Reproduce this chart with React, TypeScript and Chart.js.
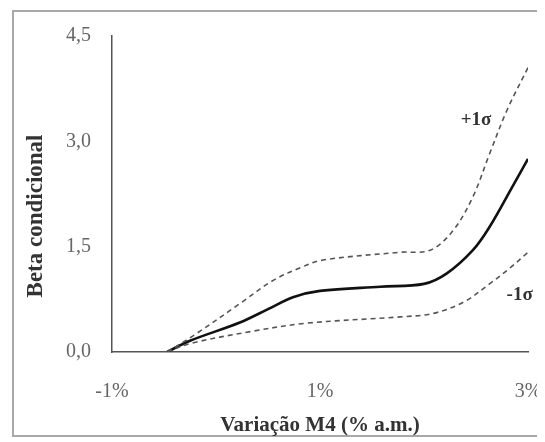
import React, { useEffect, useRef } from "react";
import { Chart, registerables } from "chart.js";

Chart.register(...registerables);

const betaX = [-0.47, -0.25, 0.23, 0.5, 0.74, 1.0, 1.58, 2.0, 2.22, 2.47, 2.63, 2.86, 3.0];
const betaY = [0, 0.16, 0.42, 0.61, 0.78, 0.87, 0.93, 0.97, 1.12, 1.45, 1.78, 2.38, 2.75];
const upperX = [-0.47, -0.2, 0.23, 0.55, 0.81, 1.03, 1.77, 2.06, 2.28, 2.47, 2.63, 2.8, 3.0];
const upperY = [0, 0.25, 0.69, 1.02, 1.2, 1.31, 1.42, 1.45, 1.73, 2.21, 2.82, 3.45, 4.05];
const lowerX = [-0.47, -0.25, 0.33, 0.87, 1.77, 2.09, 2.38, 2.63, 2.83, 3.0];
const lowerY = [0, 0.12, 0.29, 0.41, 0.5, 0.55, 0.71, 0.97, 1.2, 1.42];

const labelTexts = ["+1σ", "-1σ"];
const labelX = [2.5, 2.92];
const labelY = [3.3, 0.81];

const xTicks = [-1, 1, 3];
const yTicks = [0, 1.5, 3, 4.5];

const yTitle = "Beta condicional";
const xTitle = "Variação M4 (% a.m.)";

const toPts = (xs: number[], ys: number[]) => xs.map((x, i) => ({ x, y: ys[i] }));

const serif = "'Liberation Serif', 'Times New Roman', serif";

const textPlugin = {
  id: "textPlugin",
  afterDatasetsDraw(chart: any) {
    const { ctx, scales, chartArea } = chart;
    ctx.save();
    ctx.font = `bold 19px ${serif}`;
    ctx.fillStyle = "#333";
    ctx.textAlign = "center";
    ctx.textBaseline = "middle";
    labelTexts.forEach((t, i) => {
      ctx.fillText(t, scales.x.getPixelForValue(labelX[i]), scales.y.getPixelForValue(labelY[i]));
    });
    // y-axis title
    ctx.font = `bold 23px ${serif}`;
    ctx.translate(scales.y.left + 28, (chartArea.top + chartArea.bottom) / 2 + 22);
    ctx.rotate(-Math.PI / 2);
    ctx.fillText(yTitle, 0, 0);
    ctx.restore();
  },
};

export default function App() {
  const ref = useRef<HTMLCanvasElement>(null);
  useEffect(() => {
    if (!ref.current) return;
    const dashed = {
      borderColor: "#555",
      borderWidth: 1.6,
      borderDash: [5, 4],
      pointRadius: 0,
      tension: 0.35,
    };
    const chart = new Chart(ref.current, {
      type: "line",
      data: {
        datasets: [
          { ...dashed, data: toPts(upperX, upperY) },
          { ...dashed, data: toPts(lowerX, lowerY) },
          {
            data: toPts(betaX, betaY),
            borderColor: "#111",
            borderWidth: 2.6,
            pointRadius: 0,
            tension: 0.35,
          },
        ],
      },
      options: {
        animation: false,
        responsive: false,
        layout: { padding: { top: 28, right: 17, left: 0, bottom: 0 } },
        plugins: { legend: { display: false }, tooltip: { enabled: false } },
        scales: {
          x: {
            type: "linear",
            min: -1,
            max: 3,
            grid: { display: false, drawTicks: false },
            border: { display: true, color: "#555", width: 1.5 },
            afterBuildTicks: (s: any) => {
              s.ticks = xTicks.map((v) => ({ value: v }));
            },
            afterFit: (s: any) => {
              s.height = 90;
              s.paddingLeft = 0;
              s.paddingRight = 0;
            },
            ticks: {
              padding: 28,
              color: "#666",
              font: { family: serif, size: 20 },
              callback: (v: any) => `${v}%`,
              maxRotation: 0,
            },
            title: {
              display: true,
              text: xTitle,
              color: "#333",
              font: { family: serif, size: 21, weight: "bold" },
              padding: { top: 0, bottom: 4 },
            },
          },
          y: {
            min: 0,
            max: 4.5,
            grid: { display: false, drawTicks: false },
            border: { display: true, color: "#555", width: 1.5 },
            afterBuildTicks: (s: any) => {
              s.ticks = yTicks.map((v) => ({ value: v }));
            },
            afterFit: (s: any) => {
              s.width = 104;
              s.paddingTop = 0;
              s.paddingBottom = 0;
            },
            ticks: {
              padding: 21,
              color: "#666",
              font: { family: serif, size: 20 },
              callback: (v: any) => Number(v).toFixed(1).replace(".", ","),
            },
            title: { display: false },
          },
        },
      },
      plugins: [textPlugin],
    } as any);
    return () => chart.destroy();
  }, []);

  return (
    <div style={{ position: "relative", width: 537, height: 434, overflow: "hidden" }}>
      <div
        style={{
          position: "absolute",
          left: 4,
          top: 2,
          width: 600,
          height: 427,
          border: "2px solid #a8a8a8",
          boxSizing: "border-box",
        }}
      />
      <canvas ref={ref} width={537} height={434} style={{ position: "absolute", left: 0, top: 0 }} />
    </div>
  );
}
